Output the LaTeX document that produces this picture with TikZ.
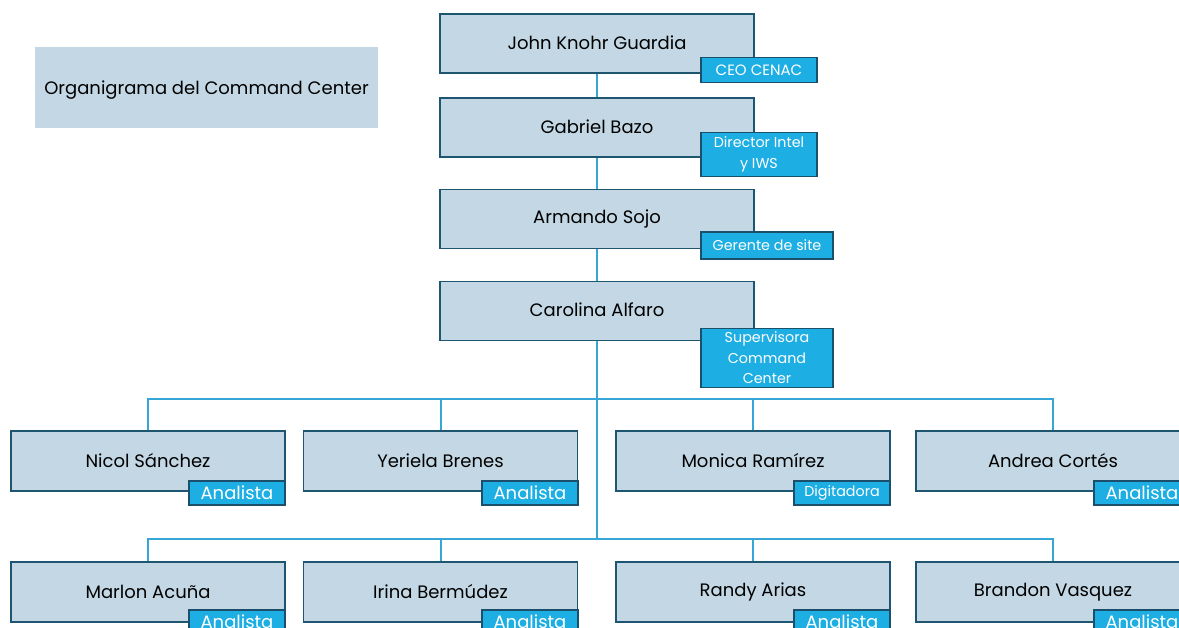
\documentclass[tikz,border=0pt]{standalone}
\usepackage{fontspec}
\setmainfont{Poppins}
\definecolor{boxfill}{HTML}{C3D8E4}
\definecolor{boxline}{HTML}{1E5570}
\definecolor{tagfill}{HTML}{1DAEE3}
\definecolor{tagline}{HTML}{1B4F6B}
\definecolor{conn}{HTML}{35A6D6}
\begin{document}
\begin{tikzpicture}[x=1pt,y=-1pt,
  person/.style={draw=boxline,line width=1.6pt,fill=boxfill,minimum width=314pt,minimum height=59pt,inner sep=0pt,font=\fontsize{18}{20}\selectfont,text=black},
  worker/.style={person,minimum width=274pt,minimum height=60pt},
  tag/.style={draw=tagline,line width=1.4pt,fill=tagfill,text=white,inner sep=0pt,align=center,font=\fontsize{14.3}{20.5}\selectfont},
  bigtag/.style={tag,font=\fontsize{18}{20}\selectfont},
  link/.style={draw=conn,line width=2pt}]
\useasboundingbox (0,0) rectangle (1179,628);
\clip (0,0) rectangle (1179,628);
% title
\node[fill=boxfill,minimum width=343pt,minimum height=81pt,inner sep=0pt,text height=15pt,text depth=0pt,font=\fontsize{18}{20}\selectfont] (title) at (206.5,87.5) {Organigrama del Command Center};
% connector coordinates
\coordinate (bar1) at (597,399);
\coordinate (bar2) at (597,539);
% chain
\node[person] (john) at (597,43.5) {\raisebox{2pt}{John Knohr Guardia}};
\node[person] (gabriel) at (597,127.5) {\raisebox{2pt}{Gabriel Bazo}};
\node[person] (armando) at (597,219) {\raisebox{2pt}{Armando Sojo}};
\node[person] (carolina) at (597,311) {\raisebox{2pt}{Carolina Alfaro}};
% workers row 1
\node[worker] (nicol) at (148,461) {\raisebox{1pt}{Nicol Sánchez}};
\node[worker] (yeriela) at (440.5,461) {\raisebox{1pt}{Yeriela Brenes}};
\node[worker] (monica) at (753,461) {\raisebox{1pt}{Monica Ramírez}};
\node[worker] (andrea) at (1053,461) {\raisebox{1pt}{Andrea Cortés}};
% workers row 2
\node[worker] (marlon) at (148,592) {\raisebox{1pt}{Marlon Acuña}};
\node[worker] (irina) at (440.5,592) {\raisebox{1pt}{Irina Bermúdez}};
\node[worker] (randy) at (753,592) {\raisebox{1pt}{Randy Arias}};
\node[worker] (brandon) at (1053,592) {\raisebox{1pt}{Brandon Vasquez}};
% connectors
\path[link] (john.south) -- (gabriel.north);
\path[link] (gabriel.south) -- (armando.north);
\path[link] (armando.south) -- (carolina.north);
\path[link] (carolina.south) -- (bar2);
\path[link] (nicol.north) |- (bar1) -| (andrea.north);
\path[link] (yeriela.north) -- (yeriela.north |- bar1);
\path[link] (monica.north) -- (monica.north |- bar1);
\path[link] (marlon.north) |- (bar2) -| (brandon.north);
\path[link] (irina.north) -- (irina.north |- bar2);
\path[link] (randy.north) -- (randy.north |- bar2);
% tags
\node[tag,minimum width=116pt,minimum height=25pt,font=\fontsize{15}{17}\selectfont] (t1) at (759,70) {CEO CENAC};
\node[tag,minimum width=116pt,minimum height=44pt] (t2) at (759,154.5) {Director Intel\\y IWS};
\node[tag,minimum width=132pt,minimum height=27pt] (t3) at (767,245.5) {Gerente de site};
\node[tag,minimum width=132pt,minimum height=59pt] (t4) at (767,358) {Supervisora\\Command\\Center};
\node[bigtag,minimum width=96pt,minimum height=24pt] (a1) at (237,493) {Analista};
\node[bigtag,minimum width=96pt,minimum height=24pt] (a2) at (530,493) {Analista};
\node[tag,minimum width=96pt,minimum height=24pt] (a3) at (842,493) {Digitadora};
\node[bigtag,minimum width=96pt,minimum height=24pt] (a4) at (1142,493) {Analista};
\node[bigtag,minimum width=96pt,minimum height=24pt] (a5) at (237,622) {Analista};
\node[bigtag,minimum width=96pt,minimum height=24pt] (a6) at (530,622) {Analista};
\node[bigtag,minimum width=96pt,minimum height=24pt] (a7) at (842,622) {Analista};
\node[bigtag,minimum width=96pt,minimum height=24pt] (a8) at (1142,622) {Analista};
\end{tikzpicture}
\end{document}
